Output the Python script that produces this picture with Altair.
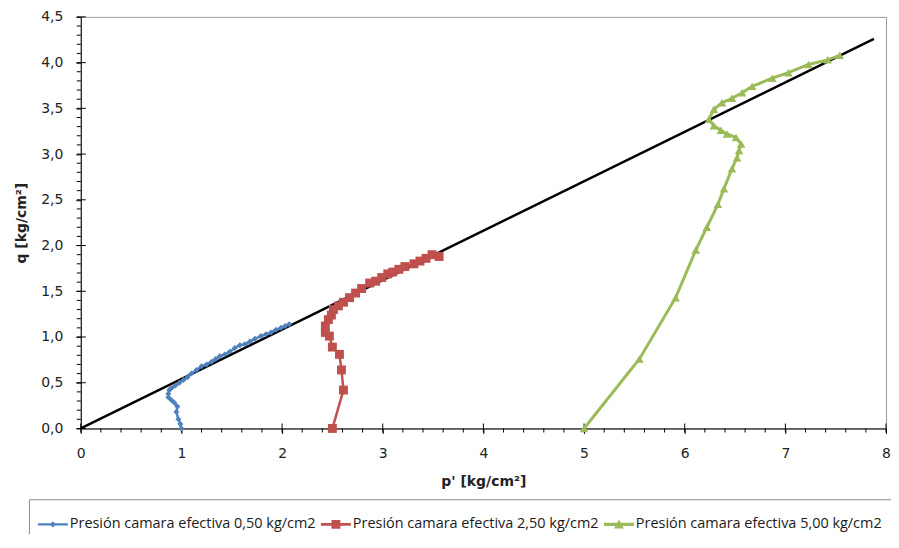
import altair as alt
import pandas as pd

# ---------------- data ----------------
series_names = [
    "Presión camara efectiva 0,50  kg/cm2",
    "Presión camara efectiva 2,50  kg/cm2",
    "Presión camara efectiva 5,00  kg/cm2",
]
series_colors = ["#4F81BD", "#C0504D", "#9BBB59"]

blue_p = [1.00, 0.99, 0.97, 0.95, 0.96, 0.93, 0.90, 0.87, 0.87, 0.88, 0.90, 0.94,
          0.98, 1.02, 1.06, 1.10, 1.15, 1.20, 1.25, 1.30, 1.34, 1.38, 1.43, 1.48,
          1.53, 1.58, 1.63, 1.68, 1.73, 1.79, 1.84, 1.89, 1.94, 1.99, 2.03, 2.07]
blue_q = [0.00, 0.05, 0.10, 0.18, 0.24, 0.28, 0.31, 0.34, 0.38, 0.42, 0.44, 0.47,
          0.50, 0.53, 0.56, 0.60, 0.64, 0.68, 0.70, 0.73, 0.76, 0.79, 0.81, 0.84,
          0.88, 0.91, 0.92, 0.95, 0.98, 1.01, 1.03, 1.05, 1.08, 1.10, 1.12, 1.14]

red_p = [2.50, 2.61, 2.59, 2.57, 2.50, 2.47, 2.43, 2.43, 2.46, 2.49, 2.51, 2.56,
         2.61, 2.67, 2.73, 2.79, 2.87, 2.93, 2.99, 3.05, 3.10, 3.16, 3.22, 3.31,
         3.37, 3.43, 3.49, 3.56]
red_q = [0.00, 0.42, 0.64, 0.81, 0.89, 1.01, 1.05, 1.12, 1.19, 1.24, 1.30, 1.34,
         1.38, 1.43, 1.48, 1.53, 1.59, 1.61, 1.65, 1.69, 1.71, 1.74, 1.77, 1.80,
         1.83, 1.86, 1.90, 1.88]

green_p = [5.00, 5.55, 5.91, 6.11, 6.22, 6.33, 6.39, 6.47, 6.52, 6.54, 6.56, 6.51,
           6.42, 6.36, 6.29, 6.24, 6.29, 6.37, 6.47, 6.57, 6.67, 6.87, 7.03, 7.23,
           7.42, 7.54]
green_q = [0.00, 0.76, 1.43, 1.95, 2.20, 2.45, 2.62, 2.84, 2.96, 3.04, 3.11, 3.18,
           3.22, 3.26, 3.31, 3.38, 3.49, 3.56, 3.61, 3.67, 3.74, 3.83, 3.89, 3.98,
           4.03, 4.08]

line_p = [0.0, 7.88]
line_q = [0.0, 4.26]

x_major = [0, 1, 2, 3, 4, 5, 6, 7, 8]
y_major = [0.0, 0.5, 1.0, 1.5, 2.0, 2.5, 3.0, 3.5, 4.0, 4.5]
x_minor = [round(0.2 * k, 1) for k in range(41)]
y_minor = [round(0.1 * k, 1) for k in range(46)]

# legend symbols: a line stub with the marker in its middle (1 unit = 16 px)
legend_paths = [
    "M-1,-0.07H0.875V0.07H-1Z M-0.06,-0.2L0.13,0L-0.06,0.2L-0.25,0Z",
    "M-1,-0.08H0.875V0.08H-1Z M-0.34,-0.28H0.22V0.28H-0.34Z",
    "M-1,-0.095H0.875V0.095H-1Z M-0.06,-0.3L0.25,0.25H-0.37Z",
]


def frame(ps, qs, name):
    return pd.DataFrame({"p": ps, "q": qs, "serie": name, "i": list(range(len(ps)))})


blue_df = frame(blue_p, blue_q, series_names[0])
red_df = frame(red_p, red_q, series_names[1])
green_df = frame(green_p, green_q, series_names[2])
line_df = frame(line_p, line_q, "ref")
legend_df = frame([], [], [])          # legend only: no marks, entries from the scale domain

XS = alt.Scale(domain=[0, 8], nice=False, zero=False)
YS = alt.Scale(domain=[0, 4.5], nice=False, zero=False)

FONT = "DejaVu Sans"
TXT = "#222222"

x_axis = alt.Axis(orient="bottom", values=x_major, format="d", title="p' [kg/cm²]",
                  grid=False, domainColor="black", domainWidth=1, tickColor="black",
                  tickSize=5, labelFlush=False, labelOverlap=False,
                  labelFont=FONT, labelFontSize=14, labelColor=TXT,
                  labelPadding=13, titleFont=FONT, titleFontSize=14,
                  titleFontWeight="bold", titleColor=TXT, titlePadding=14)
y_axis = alt.Axis(orient="left", values=y_major, title="q [kg/cm²]",
                  labelExpr="replace(format(datum.value, '.1f'), '.', ',')",
                  grid=False, domainColor="black", domainWidth=1, tickColor="black",
                  tickSize=5, labelFlush=False, labelOverlap=False,
                  labelFont=FONT, labelFontSize=14, labelColor=TXT,
                  labelPadding=13, titleFont=FONT, titleFontSize=14,
                  titleFontWeight="bold", titleColor=TXT, titlePadding=12)

ref = alt.Chart(line_df).mark_line(color="black", strokeWidth=2.5).encode(
    x=alt.X("p:Q", scale=XS, axis=x_axis),
    y=alt.Y("q:Q", scale=YS, axis=y_axis),
    order="i:Q",
)


# ---- minor ticks and the inner half of the major ticks (placed through the scales) ----
def x_ticks(values, size, offset):
    df = pd.DataFrame({"t": values})
    return alt.Chart(df).mark_tick(orient="vertical", size=size, thickness=1,
                                   color="black", yOffset=offset, opacity=1).encode(
        x=alt.X("t:Q", scale=XS, axis=None),
        y=alt.YDatum(0, scale=YS, axis=None),
    )


def y_ticks(values, size, offset):
    df = pd.DataFrame({"t": values})
    return alt.Chart(df).mark_tick(orient="horizontal", size=size, thickness=1,
                                   color="black", xOffset=offset, opacity=1).encode(
        y=alt.Y("t:Q", scale=YS, axis=None),
        x=alt.XDatum(0, scale=XS, axis=None),
    )


tick_layers = [
    x_ticks(x_minor, 4, 2),
    x_ticks(x_major, 5, -2.5),
    y_ticks(y_minor, 4, -2),
    y_ticks(y_major, 5, 2.5),
]


def series_line(df, color, width):
    return alt.Chart(df).mark_line(color=color, strokeWidth=width).encode(
        x=alt.X("p:Q", scale=XS, axis=None),
        y=alt.Y("q:Q", scale=YS, axis=None),
        order="i:Q",
    )


def series_pts(df, color, shape, size):
    return alt.Chart(df).mark_point(color=color, shape=shape, filled=True,
                                    size=size, opacity=1).encode(
        x=alt.X("p:Q", scale=XS, axis=None),
        y=alt.Y("q:Q", scale=YS, axis=None),
    )


blue_line = series_line(blue_df, series_colors[0], 2.5)
red_line = series_line(red_df, series_colors[1], 2.5)
green_line = series_line(green_df, series_colors[2], 3)

blue_pts = series_pts(blue_df, series_colors[0], "diamond", 36)
red_pts = series_pts(red_df, series_colors[1], "square", 80)
green_pts = series_pts(green_df, series_colors[2], "triangle-up", 75)

legend_layer = alt.Chart(legend_df).mark_point(filled=True, opacity=1).encode(
    x=alt.X("p:Q", scale=XS, axis=None),
    y=alt.Y("q:Q", scale=YS, axis=None),
    color=alt.Color("serie:N", scale=alt.Scale(domain=series_names, range=series_colors),
                    legend=alt.Legend(orient="none", legendX=-52, legendY=484,
                                      direction="horizontal", title=None,
                                      padding=9, strokeColor="#8c8c8c",
                                      fillColor="white", symbolSize=1024,
                                      symbolOpacity=1, symbolStrokeWidth=0,
                                      labelOffset=0, columnPadding=1,
                                      labelLimit=500, labelFont="Open Sans",
                                      labelFontSize=14.5, labelColor="#1a1a1a")),
    shape=alt.Shape("serie:N", scale=alt.Scale(domain=series_names, range=legend_paths)),
)

chart = alt.layer(
    ref, *tick_layers, blue_line, red_line, green_line, blue_pts, red_pts, green_pts,
    legend_layer
).resolve_axis(x="independent", y="independent").properties(
    width=808, height=413,
    autosize=alt.AutoSizeParams(type="none"),
    padding={"left": 73, "top": 8, "right": 5, "bottom": 105},
    background="white",
).configure_view(stroke="#999999", strokeWidth=1)

chart.save("out.html", embed_options={"renderer": "svg", "actions": False})
